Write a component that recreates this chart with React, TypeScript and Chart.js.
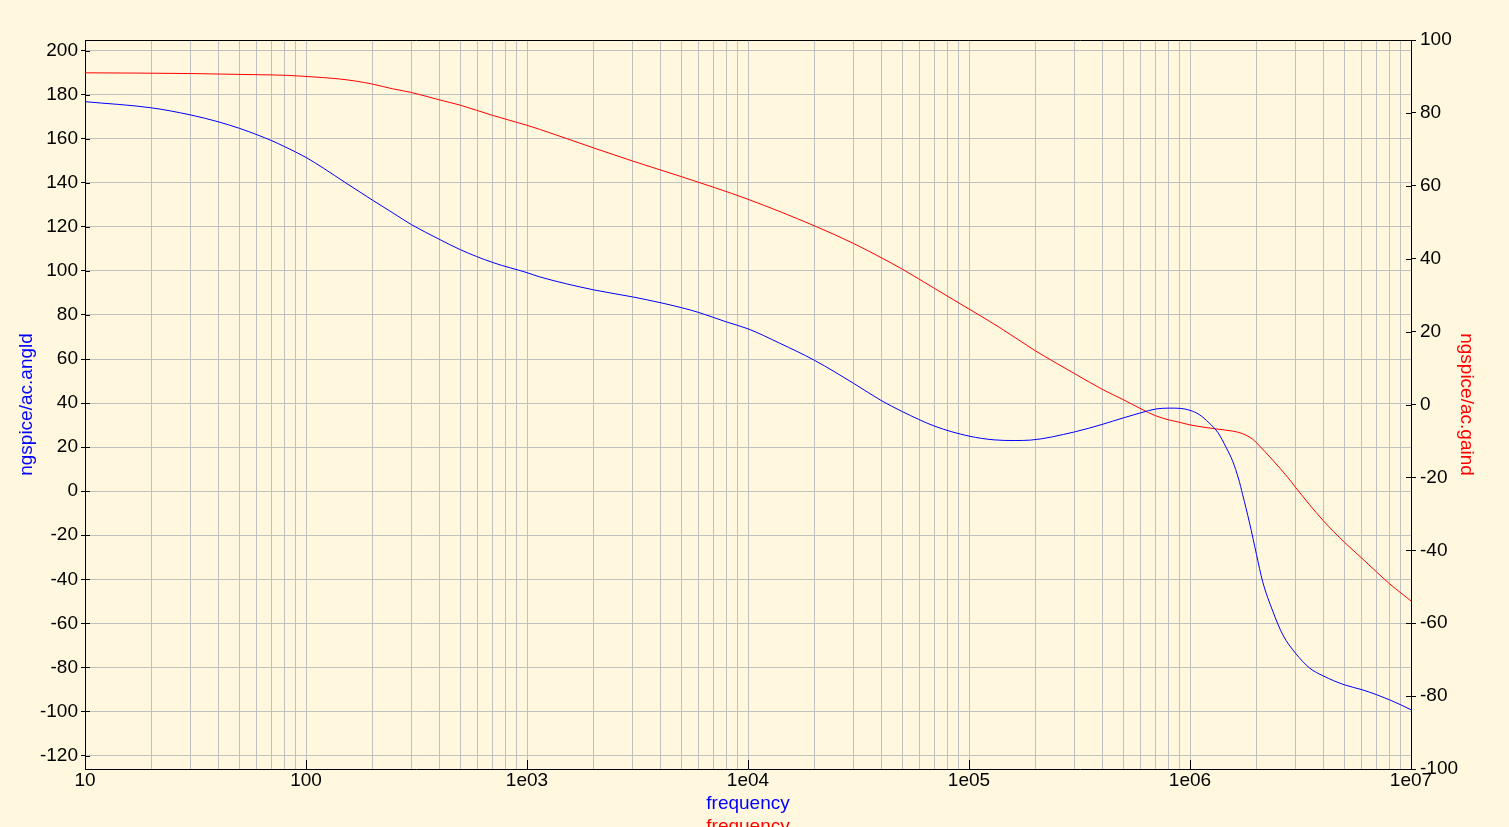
import React, { useEffect, useRef } from 'react';
import { Chart, registerables } from 'chart.js';

Chart.register(...registerables);

// ---- data ----
const phaseFreq = [
  10, 20, 30, 40, 50, 60, 70, 80, 100, 120, 150, 200, 250, 300, 400, 500, 700, 1000, 1140,
  2000, 3000, 4000, 5000, 6000, 8000, 1e4, 1.39e4, 2e4, 3e4, 4e4, 5e4, 7e4, 1e5,
  1.3e5, 1.6e5, 1.9e5, 3e5, 4e5, 5e5, 6e5, 7e5, 8e5, 9e5, 1e6, 1.1e6, 1.22e6,
  1.34e6, 1.46e6, 1.56e6, 1.66e6, 1.73e6, 1.86e6, 2e6, 2.13e6, 2.37e6, 2.63e6,
  3e6, 3.48e6, 4e6, 5e6, 6e6, 7e6, 8e6, 9e6, 1e7,
];
const phaseDeg = [
  176.8, 174.0, 170.8, 167.7, 164.7, 161.8, 159.1, 156.4, 151.5, 146.6, 140.2, 132.1, 126.0,
  121.0, 114.4, 109.6, 103.8, 99.2, 97.3, 91.4, 88.2, 85.6, 83.3, 81.1, 76.8, 73.7, 67.2,
  59.4, 49.0, 41.2, 36.1, 29.5, 25.0, 23.3, 23.0, 23.2, 26.9, 30.3, 33.3, 35.6, 37.3,
  37.7, 37.6, 36.7, 34.8, 31.0, 26.5, 19.7, 13.6, 5.5, -1.5, -14.4, -28.8, -40.9, -54.5,
  -65.2, -73.5, -80.3, -83.8, -87.9, -90.1, -92.4, -94.7, -97.0, -99.2,
];

const gainFreq = [
  10, 30, 58, 83, 100, 119, 142, 169, 200, 247, 300, 400, 500, 700, 1000, 1140, 2000,
  3000, 5000, 1e4, 2e4, 3e4, 4e4, 5e4, 7e4, 1e5, 1.37e5, 2e5, 3e5, 4e5, 5e5, 6e5, 7e5,
  8e5, 9e5, 1e6, 1.31e6, 1.56e6, 1.73e6, 1.92e6, 2e6, 2.37e6, 2.77e6, 3e6, 4e6, 5e6,
  6e6, 7e6, 8e6, 9e6, 1e7,
];
const gainDb = [
  91.0, 90.8, 90.5, 90.3, 90.0, 89.7, 89.3, 88.7, 87.9, 86.6, 85.6, 83.6, 82.1, 79.3,
  76.6, 75.5, 70.4, 66.8, 62.5, 56.3, 49.0, 44.2, 40.3, 37.1, 31.8, 26.2, 21.2, 14.7,
  8.5, 4.2, 1.3, -1.2, -3.1, -4.2, -4.9, -5.6, -6.7, -7.3, -8.0, -9.5, -10.5, -15.3,
  -20.0, -22.7, -31.8, -37.8, -42.2, -46.0, -49.2, -51.7, -53.9,
];

const xDecades = [10, 100, 1e3, 1e4, 1e5, 1e6, 1e7];
const xTickLabels = ['10', '100', '1e03', '1e04', '1e05', '1e06', '1e07'];
const leftTicks = [200, 180, 160, 140, 120, 100, 80, 60, 40, 20, 0, -20, -40, -60, -80, -100, -120];
const rightTicks = [100, 80, 60, 40, 20, 0, -20, -40, -60, -80, -100];

const leftTitle = 'ngspice/ac.angld';
const rightTitle = 'ngspice/ac.gaind';
const xTitle = 'frequency';

// ---- styling ----
const BG = 'rgb(255,248,222)';
const GRID = '#C0C0C0';
const FONT_FAMILY = "'Liberation Sans', Arial, sans-serif";
const FONT_SIZE = 19;

const xAllTicks: number[] = [];
xDecades.forEach((d, i) => {
  if (i === xDecades.length - 1) {
    xAllTicks.push(d);
  } else {
    for (let m = 1; m <= 9; m++) xAllTicks.push(d * m);
  }
});

function decadeIndex(v: number) {
  return xDecades.findIndex((d) => Math.abs(v - d) / d < 1e-9);
}

const decorPlugin = {
  id: 'decor',
  beforeDraw(chart: any) {
    const { ctx, width, height } = chart;
    ctx.save();
    ctx.fillStyle = BG;
    ctx.fillRect(0, 0, width, height);
    ctx.restore();
  },
  afterDatasetsDraw(chart: any) {
    const { ctx, chartArea, scales } = chart;
    const { left, right, top, bottom } = chartArea;
    ctx.save();
    ctx.strokeStyle = '#000';
    ctx.lineWidth = 1;
    ctx.beginPath();
    ctx.moveTo(Math.round(left), Math.round(top) + 0.5);
    ctx.lineTo(Math.round(right) + 1, Math.round(top) + 0.5);
    // inner tick marks
    leftTicks.forEach((v) => {
      const y = Math.round(scales.y.getPixelForValue(v)) + 0.5;
      ctx.moveTo(Math.round(left), y);
      ctx.lineTo(Math.round(left) + 5, y);
    });
    rightTicks.forEach((v) => {
      const y = Math.round(scales.y2.getPixelForValue(v)) + 0.5;
      ctx.moveTo(Math.round(right) - 5, y);
      ctx.lineTo(Math.round(right), y);
    });
    xDecades.forEach((v) => {
      const x = Math.round(scales.x.getPixelForValue(v)) + 0.5;
      ctx.moveTo(x, Math.round(bottom) - 9);
      ctx.lineTo(x, Math.round(bottom));
    });
    ctx.stroke();
    ctx.restore();
  },
  afterDraw(chart: any) {
    const { ctx, chartArea } = chart;
    ctx.save();
    ctx.fillStyle = '#FF0000';
    ctx.font = `${FONT_SIZE}px ${FONT_FAMILY}`;
    ctx.textAlign = 'center';
    ctx.textBaseline = 'middle';
    ctx.fillText(xTitle, (chartArea.left + chartArea.right) / 2, 827);
    ctx.restore();
  },
};

export default function App() {
  const canvasRef = useRef<HTMLCanvasElement | null>(null);

  useEffect(() => {
    document.body.style.margin = '0';
    document.body.style.background = BG;
    const canvas = canvasRef.current;
    if (!canvas) return;
    const font = { family: FONT_FAMILY, size: FONT_SIZE };

    const chart = new Chart(canvas, {
      type: 'line',
      data: {
        datasets: [
          {
            label: leftTitle,
            data: phaseFreq.map((f, i) => ({ x: f, y: phaseDeg[i] })),
            borderColor: '#0000FF',
            borderWidth: 1,
            pointRadius: 0,
            fill: false,
            cubicInterpolationMode: 'monotone',
            yAxisID: 'y',
          },
          {
            label: rightTitle,
            data: gainFreq.map((f, i) => ({ x: f, y: gainDb[i] })),
            borderColor: '#FF0000',
            borderWidth: 1,
            pointRadius: 0,
            fill: false,
            cubicInterpolationMode: 'monotone',
            yAxisID: 'y2',
          },
        ],
      },
      options: {
        responsive: false,
        animation: false,
        events: [],
        layout: { padding: { top: 40, left: 0, right: 0, bottom: 0 } },
        plugins: {
          legend: { display: false },
          tooltip: { enabled: false },
        },
        scales: {
          x: {
            type: 'logarithmic',
            position: 'bottom',
            min: 10,
            max: 1e7,
            afterBuildTicks: (s: any) => {
              s.ticks = xAllTicks.map((v) => ({ value: v }));
            },
            afterFit: (s: any) => {
              s.height = 58;
            },
            ticks: {
              autoSkip: false,
              maxRotation: 0,
              minRotation: 0,
              padding: 0,
              color: '#000',
              font,
              callback: (v: any) => {
                const i = decadeIndex(Number(v));
                return i >= 0 ? xTickLabels[i] : '';
              },
            },
            grid: { color: GRID, drawTicks: false },
            border: { color: '#000' },
            title: {
              display: true,
              text: xTitle,
              color: '#0000FF',
              font,
              padding: { top: 0, bottom: 12 },
            },
          },
          y: {
            type: 'linear',
            position: 'left',
            min: -126.1,
            max: 204.8,
            afterBuildTicks: (s: any) => {
              s.ticks = leftTicks.map((v) => ({ value: v }));
            },
            afterFit: (s: any) => {
              s.width = 85;
            },
            ticks: { color: '#000', font, padding: 3 },
            grid: { color: GRID, tickColor: '#000', tickLength: 4 },
            border: { color: '#000' },
            title: {
              display: true,
              text: leftTitle,
              color: '#0000FF',
              font,
              padding: { top: 15, bottom: 0 },
            },
          },
          y2: {
            type: 'linear',
            position: 'right',
            min: -100,
            max: 100,
            afterBuildTicks: (s: any) => {
              s.ticks = rightTicks.map((v) => ({ value: v }));
            },
            afterFit: (s: any) => {
              s.width = 98;
            },
            ticks: { color: '#000', font, padding: 4 },
            grid: { drawOnChartArea: false, color: '#000', tickColor: '#000', tickLength: 5 },
            border: { color: '#000' },
            title: {
              display: true,
              text: rightTitle,
              color: '#FF0000',
              font,
              padding: { top: 31, bottom: 0 },
            },
          },
        },
      } as any,
      plugins: [decorPlugin],
    });

    return () => chart.destroy();
  }, []);

  return (
    <div style={{ width: 1509, height: 827 }}>
      <canvas ref={canvasRef} width={1509} height={827} style={{ display: 'block' }} />
    </div>
  );
}
